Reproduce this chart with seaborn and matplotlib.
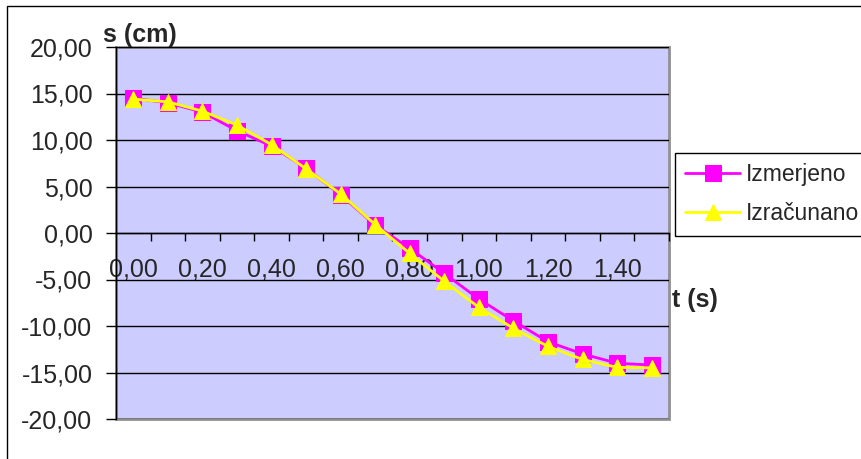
import numpy as np
import pandas as pd
import matplotlib
matplotlib.use("Agg")
import matplotlib.pyplot as plt
import seaborn as sns
from matplotlib.ticker import FixedLocator, FuncFormatter
from matplotlib.patches import Rectangle

# time (s) and position (cm)
t = [0.00, 0.10, 0.20, 0.30, 0.40, 0.50, 0.60, 0.70,
     0.80, 0.90, 1.00, 1.10, 1.20, 1.30, 1.40, 1.50]
izmerjeno = [14.5, 14.0, 13.0, 11.0, 9.35, 6.95, 4.1, 0.85,
             -1.65, -4.35, -7.1, -9.45, -11.7, -13.0, -14.0, -14.2]
izracunano = [14.4, 14.1, 13.1, 11.6, 9.5, 6.9, 4.2, 0.9,
              -2.2, -5.2, -8.0, -10.25, -12.2, -13.6, -14.45, -14.5]

y_ticks = [-20, -15, -10, -5, 0, 5, 10, 15, 20]
x_label_ticks = [0.0, 0.2, 0.4, 0.6, 0.8, 1.0, 1.2, 1.4]

df = pd.DataFrame({"t": t, "Izmerjeno": izmerjeno, "Izračunano": izracunano})

sns.set_style("white")
plt.rcParams["font.family"] = ["Liberation Sans", "DejaVu Sans"]

fig = plt.figure(figsize=(8.62, 4.59), dpi=100)
ax = fig.add_axes([116/862, 1 - 419/459, 553/862, 372/459])
ax.set_facecolor("#CCCCFF")

sns.lineplot(data=df, x="t", y="Izmerjeno", ax=ax, color="#FF00FF", lw=2,
             marker="s", markersize=11, markeredgecolor="#FF00FF",
             label="Izmerjeno", sort=False, zorder=3)
sns.lineplot(data=df, x="t", y="Izračunano", ax=ax, color="#FFFF00", lw=2,
             marker="^", markersize=12, markeredgecolor="#FFFF00",
             label="Izračunano", sort=False, zorder=4)

ax.set_xlim(-0.05, 1.55)
ax.set_ylim(-20, 20)
ax.set_yticks(y_ticks)
ax.yaxis.set_major_formatter(FuncFormatter(lambda v, p: f"{v:.2f}".replace(".", ",")))
ax.grid(axis="y", color="black", lw=1)
ax.grid(axis="x", visible=False)
ax.set_axisbelow(True)

ax.xaxis.set_major_locator(FixedLocator(x_label_ticks))
ax.xaxis.set_major_formatter(FuncFormatter(lambda v, p: f"{v:.2f}".replace(".", ",")))
ax.xaxis.set_minor_locator(FixedLocator([x + 0.05 for x in t]))
ax.tick_params(axis="x", which="major", length=0, pad=18, labelsize=18)
ax.tick_params(axis="x", which="minor", bottom=True, direction="out", length=6, width=1, color="black")
ax.tick_params(axis="y", left=True, direction="out", length=7, width=1, pad=10,
               labelsize=18, color="black")

ax.spines["bottom"].set_position(("data", 0))
ax.spines["bottom"].set_color("black")
ax.spines["bottom"].set_linewidth(1)
ax.spines["left"].set_color("black")
ax.spines["left"].set_linewidth(1)
ax.spines["top"].set_visible(False)
ax.spines["right"].set_visible(False)
ax.add_patch(Rectangle((0, 0), 1, 1, transform=ax.transAxes, fill=False,
                       edgecolor="#909090", lw=2, clip_on=False, zorder=0.5))
ax.set_xlabel("")
ax.set_ylabel("")

fig.text(103/862, 1 - 35/459, "s (cm)", fontsize=18, fontweight="bold",
         ha="left", va="center")
fig.text(672/862, 1 - 300/459, "t (s)", fontsize=18, fontweight="bold",
         ha="left", va="center")

leg = ax.legend(loc="upper left", bbox_to_anchor=(675/862, 1 - 153/459),
                bbox_transform=fig.transFigure, borderaxespad=0, fontsize=16.5,
                frameon=True, fancybox=False, edgecolor="black", framealpha=1,
                handlelength=2.4, handletextpad=0.25, borderpad=0.45,
                labelspacing=0.7)
leg.get_frame().set_linewidth(1)

fig.patches.append(Rectangle((7/862, -0.1), 1.2, 1.1 - 6.5/459, transform=fig.transFigure,
                             fill=False, edgecolor="black", lw=1))

fig.savefig("out.png", dpi=100)
